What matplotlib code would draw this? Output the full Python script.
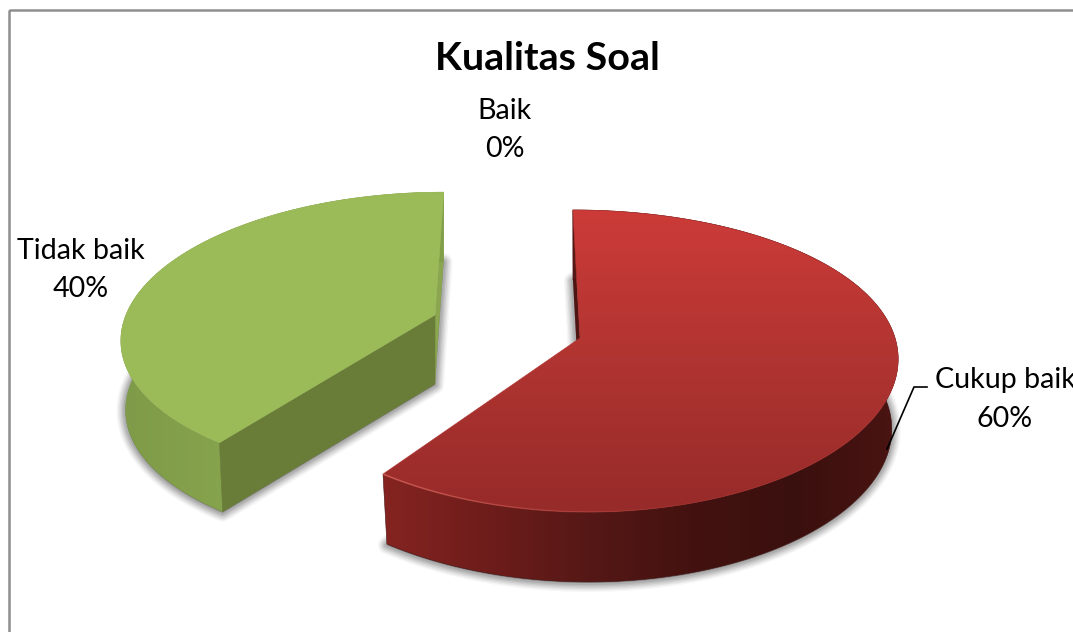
import numpy as np
import matplotlib
matplotlib.use("Agg")
import matplotlib.pyplot as plt
from matplotlib.colors import LinearSegmentedColormap
from matplotlib.patches import Polygon, Rectangle
from matplotlib.collections import LineCollection

title = "Kualitas Soal"
categories = ["Baik", "Cukup baik", "Tidak baik"]
values = [0, 60, 40]

plt.rcParams['font.family'] = ['Lato', 'DejaVu Sans']

fig = plt.figure(figsize=(10.73, 6.32), dpi=100)
ax = fig.add_axes([0, 0, 1, 1])

W, H = 1073, 632
DEPTH = 70


class Slice3D:
    def __init__(self, cx, cy, rx, ry, px, py, sk, shrink, depth):
        self.__dict__.update(locals())

    def pt(self, ang, r=1.0, z=0.0):
        t = np.radians(ang)
        X, Y = r * np.sin(t), -r * np.cos(t)
        sx = 1 / (1 - self.px * Y)
        sy = 1 / (1 - self.py * Y)
        k = 1 - (1 - self.shrink) * z
        x = self.cx + (self.rx * X + self.sk * Y) * sx * k
        y = self.cy + self.ry * Y * sy + self.depth * z
        return np.column_stack([np.atleast_1d(x), np.atleast_1d(y)])


def gradient_fill(poly_xy, stops, horizontal, zorder):
    cmap = LinearSegmentedColormap.from_list("g", stops)
    x0, y0 = poly_xy.min(axis=0)
    x1, y1 = poly_xy.max(axis=0)
    g = np.linspace(0, 1, 256)
    img = g[None, :] if horizontal else g[:, None]
    im = ax.imshow(img, cmap=cmap, extent=(x0, x1, y1, y0), aspect="auto",
                   origin="upper", zorder=zorder, interpolation="bilinear")
    clip = Polygon(poly_xy, closed=True, transform=ax.transData)
    im.set_clip_path(clip)
    ax.add_patch(Polygon(poly_xy, closed=True, fill=False, edgecolor=stops[len(stops) // 2],
                         lw=0.4, zorder=zorder))


def shadow(g, a0, a1, zorder):
    arc = np.linspace(a0, a1, 200)
    base = np.vstack([g.pt(0, 0, 1), g.pt(arc, 1, 1)])
    for lw, al in zip([13, 11, 9, 7, 5, 3], [.05, .07, .09, .11, .13, .15]):
        ax.add_patch(Polygon(base + [0, 1], closed=True, facecolor="#555555", edgecolor="#555555",
                             lw=lw, alpha=al, joinstyle="round", zorder=zorder))


# cumulative angles, clockwise from the top
ends = np.cumsum(values) / np.sum(values) * 360
starts = np.concatenate([[0], ends[:-1]])

ax.add_patch(Rectangle((8.5, 9.5), 1200, 800, fill=False, edgecolor="#8e8e8e", lw=1.8, zorder=1))

# ---- Cukup baik (red)
red = Slice3D(580, 338, 315, 147.5, 0.115, 0.152, 8, 0.98, DEPTH)
a0, a1 = starts[1], ends[1]
arc = np.linspace(a0, a1, 300)
shadow(red, a0, a1, 2)
ax.add_patch(Polygon(np.vstack([red.pt(a0), red.pt(a0, 1, 1), red.pt(0, 0, 1), red.pt(0, 0)]),
                     closed=True, facecolor="#4e1513", edgecolor="none", zorder=3))
side = np.vstack([red.pt(arc), red.pt(arc[::-1], 1, 1)])
gradient_fill(side, ["#852421", "#6e1d1b", "#551816", "#431210", "#3a100e", "#4a1412"], True, 4)
top = np.vstack([red.pt(0, 0), red.pt(arc)])
gradient_fill(top, ["#CC3B38", "#B03431", "#962B29"], False, 6)
rim_arc = np.linspace(a1, a1 - 50, 60)
rim = red.pt(rim_arc)
segs = np.stack([rim[:-1], rim[1:]], axis=1)
ax.add_collection(LineCollection(segs, colors=[(0.88, 0.42, 0.38, a) for a in np.linspace(0.7, 0.0, 59)],
                                 linewidths=1.1, zorder=7))

# ---- Tidak baik (green)
green = Slice3D(435, 315, 309, 140, 0.148, 0.14, -10, 0.985, 69)
a0, a1 = starts[2], ends[2]
arc = np.linspace(a0, a1, 200)
shadow(green, a0, a1, 2)
ax.add_patch(Polygon(np.vstack([green.pt(a1), green.pt(a1, 1, 1), green.pt(0, 0, 1), green.pt(0, 0)]),
                     closed=True, facecolor="#8AA64F", edgecolor="none", zorder=3))
side = np.vstack([green.pt(arc), green.pt(arc[::-1], 1, 1)])
gradient_fill(side, ["#7F9B49", "#86A34D", "#7E9B49", "#82A04A"], True, 4)
ax.add_patch(Polygon(np.vstack([green.pt(0, 0), green.pt(a0), green.pt(a0, 1, 1), green.pt(0, 0, 1)]),
                     closed=True, facecolor="#697D39", edgecolor="#697D39", lw=0.4, zorder=5))
ax.add_patch(Polygon(np.vstack([green.pt(0, 0), green.pt(arc)]),
                     closed=True, facecolor="#9BBB59", edgecolor="#9BBB59", lw=0.4, zorder=6))

# ---- texts
ax.text(547, 59, title, fontsize=28.4, fontweight="bold", ha="center", va="center", color="black", zorder=9)
label_pos = [(505, 111, 149), (1005, 380, 419), (81, 251, 289)]
for name, val, (x, y1, y2) in zip(categories, values, label_pos):
    ax.text(x, y1, name, fontsize=20.6, ha="center", va="center", color="black", zorder=9)
    ax.text(x, y2, f"{val}%", fontsize=20.6, ha="center", va="center", color="black", zorder=9)

ax.plot([887, 914, 927], [449, 387, 387], color="black", lw=1.2, zorder=8)

ax.set_xlim(0, W)
ax.set_ylim(H, 0)
ax.axis("off")
fig.savefig("out.png", dpi=100, facecolor="white")
